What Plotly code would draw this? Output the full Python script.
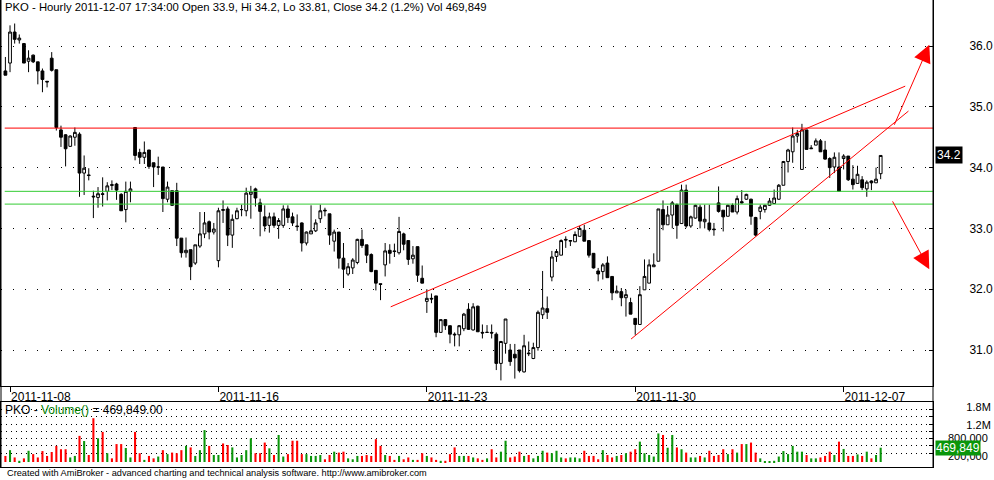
import plotly.graph_objects as go

W, H = 994, 480

# hourly bars: index 0 = 2011-11-07 17:00, then 9 bars per session
opens = [35.59, 35.72, 36.23, 36.10, 36.04, 35.75, 35.85, 35.74, 35.59, 35.42,
         35.80, 35.61, 34.62, 34.54, 34.35, 34.50, 34.55, 33.91, 33.88, 33.53,
         33.51, 33.57, 33.61, 33.72, 33.73, 33.56, 33.31, 33.61, 34.66, 34.25,
         34.17, 34.29, 34.08, 34.01, 34.01, 33.48, 33.62, 33.62, 32.84, 32.60,
         32.65, 32.43, 32.71, 32.91, 33.11, 32.94, 32.47, 33.31, 33.32, 32.89,
         33.16, 33.31, 33.29, 33.56, 33.65, 33.42, 33.19, 33.05, 33.19, 33.05,
         33.05, 33.32, 33.19, 33.04, 33.09, 32.76, 32.91, 32.96, 33.16, 33.30,
         33.24, 32.79, 32.94, 32.51, 32.25, 32.35, 32.44, 32.82, 32.73, 32.57,
         32.31, 32.09, 32.40, 32.64, 32.63, 32.60, 32.91, 32.80, 32.50, 32.70,
         32.18, 31.80, 31.85, 31.89, 31.29, 31.50, 31.40, 31.26, 31.25, 31.35,
         31.67, 31.33, 31.72, 31.29, 31.29, 31.29, 31.26, 30.78, 31.11, 31.00,
         30.93, 31.00, 30.64, 30.95, 30.86, 31.04, 31.58, 31.68, 32.20, 32.54,
         32.56, 32.82, 32.79, 32.78, 32.87, 32.97, 32.80, 32.59, 32.30, 32.29,
         32.43, 32.21, 31.94, 31.96, 31.86, 31.78, 31.52, 31.42, 31.99, 32.10,
         32.37, 32.46, 33.31, 33.06, 33.22, 33.39, 33.08, 33.63, 33.04, 33.17,
         33.35, 33.11, 33.09, 32.99, 33.42, 33.30, 33.20, 33.38, 33.27, 33.44,
         33.48, 33.48, 33.18, 33.28, 33.31, 33.38, 33.41, 33.48, 33.71, 34.10,
         34.26, 34.52, 33.97, 34.62, 34.31, 34.37, 34.44, 34.29, 34.15, 34.01,
         34.01, 34.15, 34.19, 33.81, 33.74, 33.80, 33.65, 33.78, 33.75, 33.90]

highs = [35.82, 36.34, 36.37, 36.19, 36.05, 35.93, 35.86, 35.74, 35.63, 35.42,
         35.90, 35.61, 34.69, 34.55, 34.53, 34.66, 34.58, 34.20, 33.99, 33.62,
         33.68, 33.84, 33.76, 33.79, 33.75, 33.58, 33.77, 33.77, 34.66, 34.31,
         34.43, 34.29, 34.08, 34.18, 34.01, 33.77, 33.62, 33.75, 32.84, 32.85,
         32.65, 32.73, 33.27, 33.27, 33.13, 33.09, 33.34, 33.46, 33.36, 33.23,
         33.34, 33.39, 33.67, 33.70, 33.67, 33.49, 33.38, 33.26, 33.26, 33.17,
         33.38, 33.38, 33.26, 33.23, 33.10, 32.95, 33.38, 33.15, 33.39, 33.34,
         33.24, 32.98, 32.94, 32.76, 32.43, 32.51, 32.83, 32.98, 32.73, 32.59,
         32.31, 32.09, 32.76, 32.74, 32.75, 33.19, 32.93, 32.80, 32.71, 32.70,
         32.39, 32.00, 31.93, 31.89, 31.50, 31.51, 31.40, 31.29, 31.41, 31.61,
         31.77, 31.77, 31.73, 31.42, 31.41, 31.42, 31.29, 31.15, 31.51, 31.10,
         31.10, 31.00, 31.25, 31.14, 31.12, 31.65, 32.30, 31.88, 32.63, 32.66,
         32.82, 32.87, 32.81, 32.95, 33.04, 33.06, 32.80, 32.59, 32.35, 32.43,
         32.54, 32.21, 32.06, 32.02, 31.99, 31.86, 31.52, 32.05, 32.49, 32.49,
         32.59, 33.32, 33.46, 33.37, 33.45, 33.41, 33.72, 33.72, 33.21, 33.39,
         33.39, 33.39, 33.39, 33.09, 33.69, 33.30, 33.39, 33.41, 33.54, 33.63,
         33.57, 33.49, 33.19, 33.39, 33.39, 33.50, 33.64, 33.73, 34.11, 34.31,
         34.66, 34.62, 34.72, 34.62, 34.37, 34.48, 34.47, 34.44, 34.17, 34.25,
         34.25, 34.22, 34.19, 34.04, 34.03, 33.86, 33.79, 33.79, 34.00, 34.20]

lows = [35.52, 35.57, 36.04, 36.04, 35.72, 35.57, 35.72, 35.37, 35.24, 35.32,
        35.58, 34.61, 34.34, 34.02, 34.34, 34.36, 33.52, 33.55, 33.79, 33.17,
        33.34, 33.36, 33.46, 33.63, 33.47, 33.29, 33.10, 33.43, 34.12, 34.06,
        34.06, 33.98, 33.68, 33.88, 33.27, 33.43, 33.37, 32.71, 32.52, 32.52,
        32.15, 32.40, 32.68, 32.84, 32.82, 32.90, 32.36, 33.09, 32.71, 32.68,
        33.15, 33.20, 33.20, 33.16, 33.36, 32.87, 32.95, 32.93, 33.01, 32.83,
        33.01, 33.09, 33.04, 32.96, 32.62, 32.72, 32.91, 32.94, 33.09, 33.20,
        32.73, 32.62, 32.34, 32.02, 32.22, 32.25, 32.41, 32.68, 32.43, 32.28,
        31.98, 31.82, 32.21, 32.42, 32.53, 32.57, 32.64, 32.40, 32.42, 32.12,
        32.10, 31.61, 31.77, 31.21, 31.29, 31.33, 31.11, 31.06, 31.06, 31.31,
        31.33, 31.32, 31.30, 31.19, 31.29, 31.19, 30.67, 30.50, 30.94, 30.74,
        30.53, 30.63, 30.63, 30.90, 30.85, 30.99, 31.51, 31.51, 32.13, 32.45,
        32.56, 32.68, 32.71, 32.78, 32.87, 32.79, 32.52, 32.34, 32.13, 32.16,
        32.19, 31.82, 31.94, 31.72, 31.55, 31.59, 31.25, 31.42, 31.99, 32.10,
        32.37, 32.46, 32.97, 33.06, 33.00, 32.83, 33.08, 33.01, 33.01, 33.16,
        33.00, 33.00, 32.95, 32.88, 33.26, 32.95, 33.20, 33.27, 33.23, 33.41,
        33.47, 33.06, 32.87, 33.15, 33.26, 33.37, 33.41, 33.47, 33.71, 33.92,
        34.08, 34.41, 33.97, 34.30, 34.31, 34.37, 34.26, 34.13, 33.83, 33.91,
        33.61, 33.97, 33.78, 33.64, 33.74, 33.63, 33.52, 33.63, 33.75, 33.81]

closes = [35.52, 36.23, 36.11, 36.13, 35.72, 35.80, 35.74, 35.59, 35.45, 35.41,
          35.60, 34.66, 34.50, 34.31, 34.52, 34.58, 33.91, 33.99, 33.87, 33.52,
          33.57, 33.56, 33.70, 33.71, 33.63, 33.29, 33.61, 33.65, 34.20, 34.17,
          34.25, 34.02, 34.01, 34.01, 33.49, 33.68, 33.38, 32.84, 32.60, 32.64,
          32.37, 32.73, 32.91, 33.09, 32.94, 32.99, 33.29, 33.30, 32.89, 33.15,
          33.29, 33.31, 33.58, 33.60, 33.50, 33.28, 33.04, 33.19, 33.05, 33.13,
          33.32, 33.18, 33.09, 33.03, 32.76, 32.94, 32.96, 33.09, 33.29, 33.29,
          32.89, 32.94, 32.51, 32.33, 32.37, 32.48, 32.82, 32.72, 32.56, 32.29,
          32.10, 32.08, 32.63, 32.59, 32.62, 32.95, 32.74, 32.49, 32.56, 32.23,
          32.10, 31.85, 31.84, 31.29, 31.50, 31.40, 31.26, 31.25, 31.40, 31.59,
          31.34, 31.71, 31.30, 31.28, 31.29, 31.28, 30.78, 31.14, 31.51, 30.81,
          30.87, 30.66, 31.07, 30.94, 31.04, 31.62, 31.69, 31.62, 32.53, 32.62,
          32.80, 32.81, 32.80, 32.90, 33.00, 32.79, 32.56, 32.35, 32.25, 32.40,
          32.19, 31.94, 31.97, 31.86, 31.91, 31.59, 31.42, 31.91, 32.21, 32.40,
          32.40, 33.32, 33.06, 33.22, 33.42, 33.05, 33.63, 33.04, 33.19, 33.38,
          33.12, 33.15, 32.98, 32.98, 33.28, 33.19, 33.38, 33.27, 33.49, 33.42,
          33.56, 33.20, 32.89, 33.35, 33.38, 33.45, 33.50, 33.71, 34.10, 34.29,
          34.52, 34.56, 34.62, 34.30, 34.32, 34.44, 34.26, 34.14, 34.00, 34.17,
          33.61, 34.19, 33.80, 33.72, 33.89, 33.67, 33.76, 33.75, 33.81, 34.20]

# volume in thousands of shares
volume_k = [200, 390, 150, 40, 120, 370, 260, 150, 360, 200,
            330, 530, 420, 420, 150, 200, 860, 690, 230, 1440,
            780, 990, 290, 120, 590, 590, 460, 150, 990, 290,
            70, 200, 120, 180, 390, 260, 310, 290, 390, 530,
            480, 200, 390, 1050, 530, 230, 230, 610, 560, 480,
            150, 230, 390, 780, 290, 290, 640, 450, 230, 890,
            180, 260, 700, 700, 260, 260, 200, 200, 230, 90,
            230, 340, 310, 340, 120, 90, 200, 200, 230, 200,
            750, 530, 230, 200, 70, 200, 90, 150, 70, 70,
            290, 200, 150, 70, 40, 40, 260, 480, 200, 200,
            200, 150, 120, 70, 120, 420, 150, 340, 700, 150,
            180, 340, 200, 230, 120, 200, 370, 310, 290, 370,
            150, 120, 150, 150, 120, 370, 200, 200, 90, 390,
            230, 150, 200, 230, 290, 340, 420, 670, 290, 230,
            180, 940, 890, 470, 890, 480, 420, 310, 150, 150,
            200, 150, 370, 200, 230, 420, 260, 420, 310, 590,
            590, 640, 310, 120, 20, 20, 40, 180, 360, 260,
            530, 340, 340, 230, 120, 120, 150, 200, 340, 230,
            670, 430, 200, 200, 250, 200, 340, 120, 230, 469.849]

date_ticks = [1, 46, 91, 136, 181]
date_labels = ["2011-11-08", "2011-11-16", "2011-11-23", "2011-11-30", "2011-12-07"]
price_ticks = [31, 32, 33, 34, 35, 36]

resistance = 34.65
supports = [33.61, 33.40]

# hand-drawn channel lines (bar index, price)
upper_x = [83.2, 194.3]
upper_y = [31.71, 35.34]
lower_x = [135.1, 195.0]
lower_y = [31.18, 34.93]
arrow_up = [(191.8, 34.68), (199.5, 36.02)]
arrow_down = [(191.4, 33.47), (199.5, 32.33)]

vol_grid = [290000, 530000, 770000, 1010000, 1250000, 1490000, 1730000]
vol_ticks = [200000, 800000, 1200000, 1800000]
vol_ticktext = ["200,000", "800,000", "1.2M", "1.8M"]

FONT = "Liberation Sans, Arial, sans-serif"
VOL_GREEN = "#0a960a"


def px(x):
    return x / W


def py(y):
    return 1 - y / H


def pad_right(label, width=7):
    # labels sit right-aligned against the window edge like AmiBroker's
    return "\u2007" * max(0, width - len(label)) + label


idx = list(range(len(closes)))
volume = [v * 1000 for v in volume_k]
vol_colors = [VOL_GREEN if c >= o else "#ff0000" for o, c in zip(opens, closes)]

fig = go.Figure()

fig.add_trace(go.Candlestick(
    x=idx, open=opens, high=highs, low=lows, close=closes,
    increasing=dict(fillcolor="white", line=dict(color="black", width=1)),
    decreasing=dict(fillcolor="black", line=dict(color="black", width=1)),
    whiskerwidth=0, hoverinfo="skip", xaxis="x", yaxis="y"
))

for lx, ly in [(upper_x, upper_y), (lower_x, lower_y)]:
    fig.add_trace(go.Scatter(
        x=lx, y=ly, mode="lines", line=dict(color="#ff0000", width=1),
        hoverinfo="skip", xaxis="x", yaxis="y"
    ))

fig.add_trace(go.Bar(
    x=idx, y=volume, marker_color=vol_colors, marker_line_width=0,
    width=0.45, hoverinfo="skip", xaxis="x2", yaxis="y2"
))
# invisible anchor so the overlaid label axis gets drawn
fig.add_trace(go.Scatter(
    x=[idx[-1]], y=[volume[-1]], mode="markers", marker=dict(opacity=0),
    hoverinfo="skip", xaxis="x2", yaxis="y3"
))

shapes = []
shapes.append(dict(type="line", xref="x domain", yref="y", x0=0.004, x1=1,
                   y0=resistance, y1=resistance, line=dict(color="#ff0000", width=1)))
for s in supports:
    shapes.append(dict(type="line", xref="x domain", yref="y", x0=0.004, x1=1,
                       y0=s, y1=s, line=dict(color="#33cc33", width=1)))
# frame through the date strip
for xp in [1, 933]:
    shapes.append(dict(type="line", xref="paper", yref="paper", x0=px(xp), x1=px(xp),
                       y0=py(0), y1=py(467), line=dict(color="black", width=1)))

annotations = []
for tail, tip in [arrow_up, arrow_down]:
    annotations.append(dict(
        x=tip[0], y=tip[1], ax=tail[0], ay=tail[1], xref="x", yref="y",
        axref="x", ayref="y", text="", showarrow=True, arrowhead=2,
        arrowsize=3.5, arrowwidth=1, arrowcolor="#ff0000"
    ))

annotations.append(dict(
    x=px(3), y=py(7), xref="paper", yref="paper", xanchor="left", yanchor="middle",
    showarrow=False, font=dict(size=11.3, color="black", family=FONT),
    text="PKO - Hourly 2011-12-07 17:34:00 Open 33.9, Hi 34.2, Lo 33.81, Close 34.2 (1.2%) Vol 469,849"
))
annotations.append(dict(
    x=px(3), y=py(410), xref="paper", yref="paper", xanchor="left", yanchor="middle",
    showarrow=False, font=dict(size=12, color="black", family=FONT),
    text='PKO - <span style="color:#008000">Volume()</span> = 469,849.00'
))
annotations.append(dict(
    x=px(5), y=py(473), xref="paper", yref="paper", xanchor="left", yanchor="middle",
    showarrow=False, font=dict(size=9.2, color="black", family=FONT),
    text="Created with AmiBroker - advanced charting and technical analysis software. http://www.amibroker.com"
))
annotations.append(dict(
    x=px(935), y=closes[-1], xref="paper", yref="y", xanchor="left", yanchor="middle",
    showarrow=False, bgcolor="black", borderpad=1,
    font=dict(size=12, color="white", family=FONT), text=f"{closes[-1]:.1f}"
))
annotations.append(dict(
    x=px(935), y=volume[-1], xref="paper", yref="y2", xanchor="left", yanchor="middle",
    showarrow=False, bgcolor=VOL_GREEN, borderpad=0,
    font=dict(size=12, color="white", family=FONT), text=f"{int(volume[-1]):,}"
))

x_dom = [px(1), px(933)]
x_range = [-0.95, 200.3]
vol_range = [-164000, 1974000]

fig.update_layout(
    width=W, height=H,
    margin=dict(l=0, r=0, t=0, b=0),
    paper_bgcolor="white", plot_bgcolor="white",
    font=dict(family=FONT, size=12, color="black"),
    showlegend=False,
    boxgap=0.15,
    shapes=shapes,
    annotations=annotations,
    xaxis=dict(
        domain=x_dom, range=x_range, anchor="y",
        tickmode="array", tickvals=date_ticks, ticktext=date_labels,
        tickfont=dict(size=12, family=FONT, color="black"),
        ticks="outside", ticklen=5, tickcolor="black",
        ticklabelposition="outside right",
        showline=True, linecolor="black", linewidth=1,
        showgrid=False, zeroline=False, rangeslider=dict(visible=False),
        fixedrange=True
    ),
    yaxis=dict(
        domain=[py(386), 1], range=[30.408, 36.757], anchor="x", side="right",
        tickmode="array", tickvals=price_ticks, tickformat=".1f",
        tickfont=dict(size=12, family=FONT, color="black"),
        ticks="inside", ticklen=4, tickcolor="black", ticklabelstandoff=33,
        showgrid=True, gridcolor="black", gridwidth=1, griddash="1px,11px",
        showline=True, mirror=True, linecolor="black", linewidth=1,
        zeroline=False, fixedrange=True
    ),
    xaxis2=dict(
        domain=x_dom, range=x_range, anchor="y2", matches="x",
        showticklabels=False, ticks="",
        showline=True, mirror=True, linecolor="black", linewidth=1,
        showgrid=False, zeroline=False, fixedrange=True
    ),
    yaxis2=dict(
        domain=[py(467), py(402)], range=vol_range, anchor="x2", side="right",
        tickmode="array", tickvals=vol_grid, showticklabels=False,
        ticks="inside", ticklen=4, tickcolor="black",
        showgrid=True, gridcolor="black", gridwidth=1, griddash="1px,4px",
        showline=True, mirror=True, linecolor="black", linewidth=1,
        zeroline=False, fixedrange=True
    ),
    yaxis3=dict(
        overlaying="y2", anchor="x2", side="right", range=vol_range,
        tickmode="array", tickvals=vol_ticks,
        ticktext=[pad_right(t) for t in vol_ticktext],
        tickfont=dict(size=11, family=FONT, color="black"),
        ticks="", ticklabelstandoff=14, showgrid=False, showline=False,
        zeroline=False, fixedrange=True
    ),
)

fig.write_html("out.html", config={"displayModeBar": False},
               post_script="document.body.style.margin='0';")
